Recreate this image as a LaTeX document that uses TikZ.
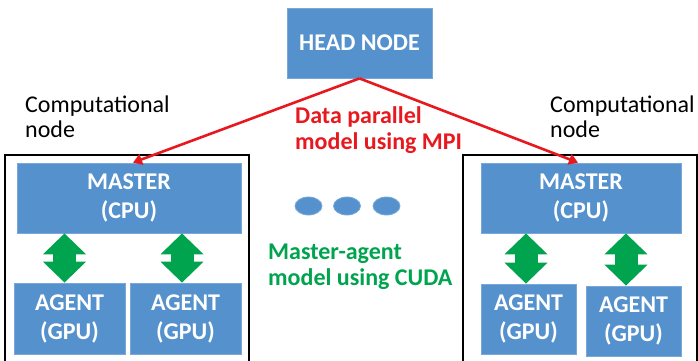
\documentclass[tikz,border=0pt]{standalone}
\usepackage{fontspec}
\setmainfont{Carlito}
\usetikzlibrary{arrows.meta,positioning,calc,shapes.geometric}

\definecolor{boxblue}{RGB}{85,146,205}
\definecolor{boxedge}{RGB}{120,168,218}
\definecolor{mpired}{RGB}{232,25,30}
\definecolor{cudagreen}{RGB}{0,163,78}

\begin{document}
\begin{tikzpicture}[x=1pt,y=-1pt,
  unit/.style={draw=boxedge, fill=boxblue, text=white, line width=0.8pt,
    font=\fontsize{24}{29}\selectfont\bfseries, align=center, inner sep=0pt},
  caption/.style={font=\fontsize{24}{25.5}\selectfont, align=left,
    anchor=north west, inner sep=0pt},
  link/.style={draw=mpired, line width=2.6pt, -{Triangle[width=11pt,length=9pt]}},
  bus/.style={cudagreen, line width=23pt,
    {Triangle[width=42pt,length=21pt]}-{Triangle[width=42pt,length=21pt]}},
  frame/.style={draw=black, line width=1.8pt},
  dot/.style={ellipse, draw=boxedge, fill=boxblue, line width=0.8pt,
    minimum width=27pt, minimum height=18pt, inner sep=0pt}]
  \useasboundingbox (0,0) rectangle (698,361);

  \draw [frame] (5,155) rectangle (249,366);
  \draw [frame] (463,155) rectangle (697,366);

  \node [unit, minimum width=145pt, minimum height=70pt] at (359.5,43) (head) {HEAD NODE};

  \node [unit, minimum width=224pt, minimum height=70pt] at (129,198) (lmaster) {MASTER\\(CPU)};
  \node [unit, minimum width=111pt, minimum height=71pt] at (69.5,318.5) (lagent1) {AGENT\\(GPU)};
  \node [unit, minimum width=111pt, minimum height=71pt] at (185.5,318.5) (lagent2) {AGENT\\(GPU)};

  \node [unit, minimum width=200pt, minimum height=70pt] at (581,198) (rmaster) {MASTER\\(CPU)};
  \node [unit, minimum width=95pt, minimum height=70pt] at (528.5,319) (ragent1) {AGENT\\(GPU)};
  \node [unit, minimum width=95pt, minimum height=70pt] at (633.5,321) (ragent2) {AGENT\\(GPU)};

  \node [dot] at (308.5,206) (dot1) {};
  \node [dot] at (347,206) (dot2) {};
  \node [dot] at (386.5,206) (dot3) {};

  \node [caption] at (25,95.5) (lcap) {Computational\\node};
  \node [caption] at (550,95.5) (rcap) {Computational\\node};
  \node [caption, text=mpired, font=\fontsize{24}{26.5}\selectfont\bfseries] at (295,106) (mpi)
    {Data parallel\\model using MPI};
  \node [caption, text=cudagreen, font=\fontsize{24}{25.5}\selectfont\bfseries] at (268,244) (cuda)
    {Master-agent\\model using CUDA};

  \draw [link] (head.south) -- ([xshift=4pt]lmaster.north);
  \draw [link] (head.south) -- ([xshift=-3pt]rmaster.north);

  \draw [bus] ([xshift=-5pt]lagent1.north) -- ([xshift=-5pt]lagent1.north |- lmaster.south);
  \draw [bus] ([xshift=-3.5pt]lagent2.north) -- ([xshift=-3.5pt]lagent2.north |- lmaster.south);
  \draw [bus] ([xshift=-2.5pt]ragent1.north) -- ([xshift=-2.5pt]ragent1.north |- rmaster.south);
  \draw [bus] ([xshift=-7.5pt]ragent2.north) -- ([xshift=-7.5pt]ragent2.north |- rmaster.south);
\end{tikzpicture}
\end{document}
